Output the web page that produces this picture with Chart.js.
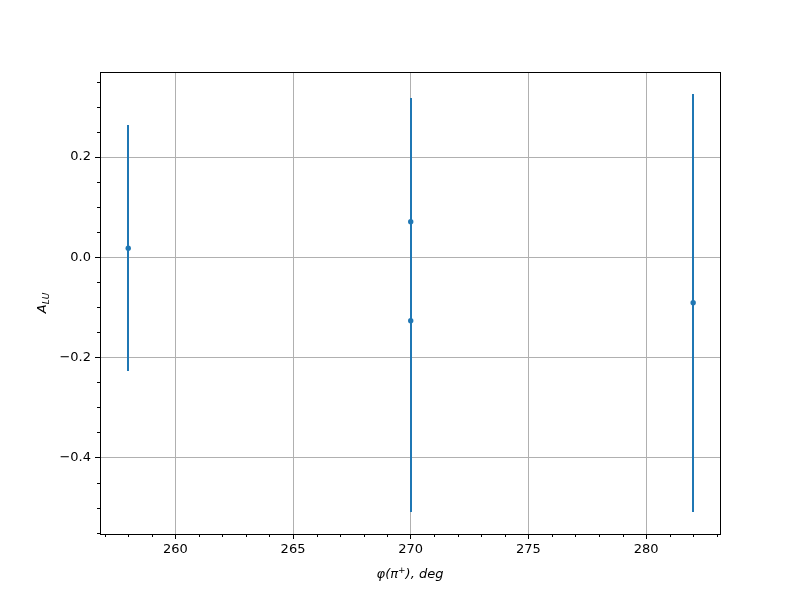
<!DOCTYPE html>
<html lang="en">
<head>
  <meta charset="UTF-8">
  <title>A_LU vs phi</title>
  <script src="https://cdn.jsdelivr.net/npm/chart.js@4"></script>
  <style>
    html, body { margin: 0; padding: 0; background: #fff; }
    #wrap { width: 800px; height: 600px; }
  </style>
</head>
<body>
<div id="wrap"><canvas id="chart" width="800" height="600"></canvas></div>
<script>
// data
const phi = [258, 270, 270, 282]
const alu = [0.018, 0.071, -0.127, -0.091]
const aluErr = [0.246, 0.247, 0.382, 0.417]

const xTicks = [260, 265, 270, 275, 280]
const yTicks = [-0.4, -0.2, 0.0, 0.2]
const xMinorStep = 1
const yMinorStep = 0.05

const blue = "#1f77b4"
const font = "DejaVu Sans"

// error bars + frame + minor ticks + axis titles
const extras = {
  id: "extras",
  beforeDatasetsDraw(chart) {
    const { ctx, scales: { x, y } } = chart
    ctx.save()
    ctx.strokeStyle = blue
    ctx.lineWidth = 2
    phi.forEach((v, i) => {
      const px = Math.round(x.getPixelForValue(v))
      ctx.beginPath()
      ctx.moveTo(px, Math.round(y.getPixelForValue(alu[i] + aluErr[i])))
      ctx.lineTo(px, Math.round(y.getPixelForValue(alu[i] - aluErr[i])))
      ctx.stroke()
    })
    ctx.restore()
  },
  afterDraw(chart) {
    const { ctx, chartArea: a, scales: { x, y } } = chart
    ctx.save()
    ctx.strokeStyle = "#000"
    ctx.lineWidth = 1
    ctx.strokeRect(Math.round(a.left) + 0.5, Math.round(a.top) + 0.5,
      Math.round(a.right - a.left), Math.round(a.bottom - a.top))

    // minor ticks
    ctx.beginPath()
    for (let v = Math.ceil(x.min); v <= x.max; v += xMinorStep) {
      if (v % 5 === 0) continue
      const px = Math.round(x.getPixelForValue(v)) + 0.5
      ctx.moveTo(px, a.bottom)
      ctx.lineTo(px, a.bottom + 3)
    }
    for (let k = Math.ceil(y.min / yMinorStep); k * yMinorStep <= y.max; k++) {
      if (k % 4 === 0) continue
      const py = Math.round(y.getPixelForValue(k * yMinorStep)) + 0.5
      ctx.moveTo(a.left, py)
      ctx.lineTo(a.left - 3, py)
    }
    ctx.stroke()

    // axis titles
    ctx.fillStyle = "#000"
    ctx.textBaseline = "alphabetic"
    ctx.font = `italic 13px ${font}`
    const xt1 = "φ(π", xt2 = "+", xt3 = "), deg"
    const w1 = ctx.measureText(xt1).width
    const w3 = ctx.measureText(xt3).width
    ctx.font = `9px ${font}`
    const w2 = ctx.measureText(xt2).width
    let cx = (a.left + a.right) / 2 - (w1 + w2 + w3) / 2
    const by = 578
    ctx.font = `italic 13px ${font}`
    ctx.fillText(xt1, cx, by)
    cx += w1
    ctx.font = `9px ${font}`
    ctx.fillText(xt2, cx, by - 5)
    cx += w2
    ctx.font = `italic 13px ${font}`
    ctx.fillText(xt3, cx, by)

    ctx.translate(46, (a.top + a.bottom) / 2)
    ctx.rotate(-Math.PI / 2)
    ctx.font = `italic 13px ${font}`
    const wa = ctx.measureText("A").width
    ctx.font = `italic 9px ${font}`
    const wb = ctx.measureText("LU").width
    ctx.font = `italic 13px ${font}`
    ctx.fillText("A", -(wa + wb) / 2, 0)
    ctx.font = `italic 9px ${font}`
    ctx.fillText("LU", -(wa + wb) / 2 + wa, 3)
    ctx.restore()
  }
}

const fmtY = v => (v < 0 ? "\u2212" : "") + Math.abs(v).toFixed(1)

new Chart(document.getElementById("chart"), {
  type: "scatter",
  data: {
    datasets: [{
      data: phi.map((v, i) => ({ x: v, y: alu[i] })),
      backgroundColor: blue,
      borderColor: blue,
      pointRadius: 2.7,
      pointHoverRadius: 2.7,
      borderWidth: 0
    }]
  },
  options: {
    responsive: false,
    animation: false,
    layout: { padding: { left: 0, top: 72, right: 80, bottom: 0 } },
    plugins: { legend: { display: false }, tooltip: { enabled: false } },
    scales: {
      x: {
        type: "linear",
        min: 256.8,
        max: 283.14,
        afterBuildTicks: s => { s.ticks = xTicks.map(v => ({ value: v })) },
        afterFit: s => { s.height = 66 },
        grid: { color: "#b0b0b0", lineWidth: 1, tickColor: "#000", tickLength: 5, drawOnChartArea: true },
        border: { color: "#000", width: 1 },
        ticks: { color: "#000", font: { family: font, size: 13 }, padding: 3, maxRotation: 0,
          callback: v => String(v) }
      },
      y: {
        type: "linear",
        min: -0.5528,
        max: 0.37,
        afterBuildTicks: s => { s.ticks = yTicks.map(v => ({ value: v })) },
        afterFit: s => { s.width = 100 },
        grid: { color: "#b0b0b0", lineWidth: 1, tickColor: "#000", tickLength: 5 },
        border: { color: "#000", width: 1 },
        ticks: { color: "#000", font: { family: font, size: 13 }, padding: 4,
          callback: v => fmtY(v) }
      }
    }
  },
  plugins: [extras]
})
</script>
</body>
</html>
